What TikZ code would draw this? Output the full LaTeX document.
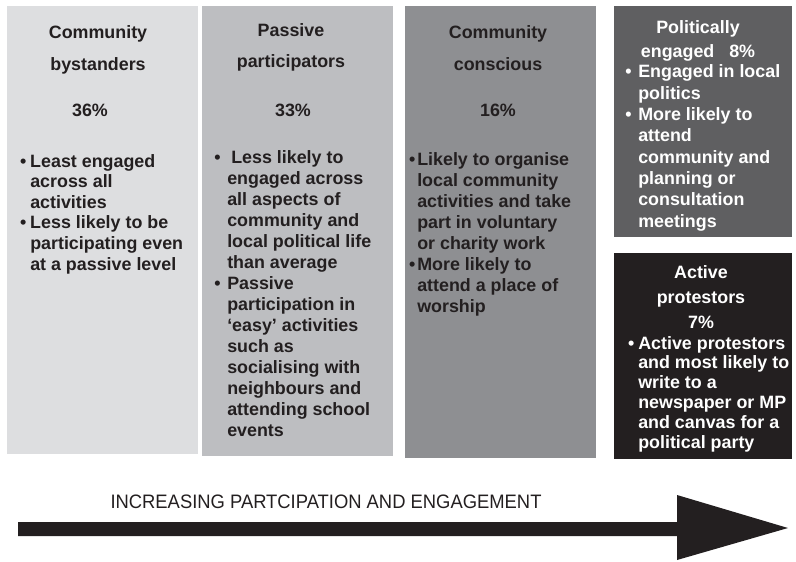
\documentclass[tikz,border=0pt]{standalone}
\usepackage{fontspec}
\setmainfont{Liberation Sans}
\newfontfamily\narrowfont{Liberation Sans}[FakeStretch=0.945]
\definecolor{inkblack}{HTML}{231F20}
\definecolor{boxA}{HTML}{DDDEE0}
\definecolor{boxB}{HTML}{BDBEC1}
\definecolor{boxC}{HTML}{8E8F92}
\definecolor{boxD}{HTML}{5F5F61}
% hanging bullet, #1 = gap before the text
\newcommand{\bul}[1][3pt]{\llap{\textbullet\hspace{#1}}}
% font size / line skip for the texts in the boxes
\newcommand{\bx}[1]{\bfseries\fontsize{13.4}{#1}\selectfont}
\begin{document}
\begin{tikzpicture}[x=0.75pt,y=-0.75pt,line join=round,>=stealth]
	\tikzset{listtext/.style={font=\bx{15.5},inner sep=0pt,align=left,anchor=base west,text=inkblack},
		headtext/.style={font=\bx{24},inner sep=0pt,align=center,anchor=base,text=inkblack}}
	\useasboundingbox (0,0) rectangle (796,561);
	% the five groups
	\foreach \xa/\ya/\xb/\yb/\col in {7/6/198/454/boxA,202/6/393/456/boxB,405/6/596/458/boxC,614/6/792/237/boxD,614/253/792/459/inkblack}
	\fill[\col] (\xa,\ya) rectangle (\xb,\yb);
	% bystanders (nodes sit on the baseline of their last line)
	\node[headtext] (bysT) at (98,70) {Community\\bystanders};
	\node[headtext] (bysP) at (90,116) {36\%};
	\node[listtext,font=\bx{15.45}] (bysL) at (30,270) {\bul Least engaged\\across all\\activities\\\bul Less likely to be\\participating even\\at a passive level};
	% passive
	\node[headtext,font=\bx{23.25}] (pasT) at (291,67) {Passive\\participators};
	\node[headtext] (pasP) at (293,116) {33\%};
	\node[listtext,font=\bx{15.7}] (pasL) at (227,436) {\bul[5pt]\hspace{3pt}Less likely to\\engaged across\\all aspects of\\community and\\local political life\\than average\\\bul[5pt]Passive\\participation in\\‘easy’ activities\\such as\\socialising with\\neighbours and\\attending school\\events};
	% conscious
	\node[headtext] (conT) at (498,70) {Community\\conscious};
	\node[headtext] (conP) at (498,116) {16\%};
	\node[listtext,font=\bx{15.65}] (conL) at (417,312) {\bul[1.5pt]Likely to organise\\local community\\activities and take\\part in voluntary\\or charity work\\\bul[1.5pt]More likely to\\attend a place of\\worship};
	% politically engaged
	\node[headtext,text=white,font=\bx{18}] (polT) at (698,57) {Politically\\engaged~~~8\%};
	\node[listtext,text=white,font=\bx{16}] (polL) at (638,227) {\bul[5pt]Engaged in local\\politics\\\bul[5pt]More likely to\\attend\\community and\\planning or\\consultation\\meetings};
	% protestors
	\node[headtext,text=white,font=\bx{18.4}] (proT) at (701,328) {Active\\protestors\\7\%};
	\node[listtext,text=white,font=\bx{14.85}] (proL) at (638,448) {\bul Active protestors\\and most likely to\\write to a\\newspaper or MP\\and canvas for a\\political party};
	% arrow along the bottom
	\fill[inkblack] (18,522) -- (677,522) -- (677,495) -- (788,528) -- (677,560) -- (677,536) -- (18,536) -- cycle;
	\node[anchor=base,inner sep=0pt,text=inkblack,font=\narrowfont\fontsize{14.6}{16}\selectfont] (lbl) at (326,508) {INCREASING PARTCIPATION AND ENGAGEMENT};
\end{tikzpicture}
\end{document}
